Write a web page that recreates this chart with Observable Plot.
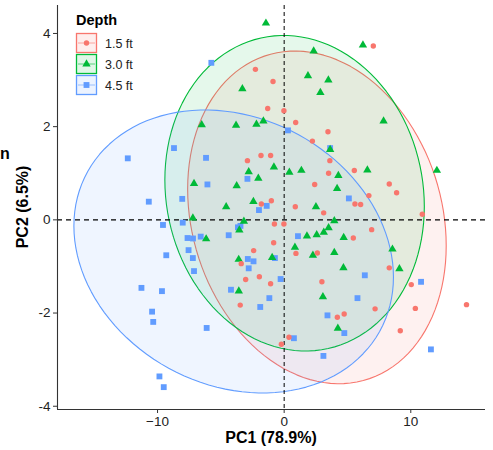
<!DOCTYPE html>
<html><head><meta charset="utf-8">
<script src="https://cdn.jsdelivr.net/npm/d3@7"></script>
<script src="https://cdn.jsdelivr.net/npm/@observablehq/plot@0.6"></script>
<style>
body{margin:0;background:#fff;font-family:"Liberation Sans",Arial,sans-serif;}
#wrap{position:relative;width:493px;height:450px;overflow:hidden;}
#cut{position:absolute;left:0px;top:146px;font:bold 16px "Liberation Sans",Arial,sans-serif;color:#000;line-height:1;}
</style></head><body><div id="wrap"><div id="cut">n</div></div>
<script>
const depths = ["1.5 ft", "3.0 ft", "4.5 ft"];
const colors = ["#F8766D", "#00BA38", "#619CFF"];
const symbols = ["circle", "triangle", "square"];
const legendTitle = "Depth";
const xLabel = "PC1 (78.9%)";
const yLabel = "PC2 (6.5%)";
const xTicks = [-10, 0, 10];
const yTicks = [-4, -2, 0, 2, 4];
const xDomain = [-17.9, 15.9];
const yDomain = [-4.07, 4.6];

const pc1_15 = [7.04,-2.27,-0.88,-1.30,-0.02,0.91,3.46,2.23,-1.83,-1.07,-2.90,3.61,3.51,5.54,2.41,8.30,8.88,6.69,5.59,6.04,-1.80,-1.01,0.88,3.12,10.91,-0.77,-0.02,6.91,5.46,-0.83,-2.41,0.93,2.62,8.30,-3.39,-3.04,-1.96,-1.07,2.98,10.04,10.36,14.40,7.18,4.20,4.74,9.17,0.38,-0.22,-3.47];
const pc2_15 = [3.73,3.23,2.97,2.39,2.34,2.09,1.89,1.69,1.38,1.38,1.27,1.27,1.00,1.06,0.76,0.77,0.58,0.52,0.34,0.33,0.34,0.41,0.28,0.15,0.12,-0.09,-0.09,-0.21,-0.39,-0.49,-0.66,-0.72,-0.71,-1.03,-0.94,-1.28,-1.22,-1.37,-1.33,-1.39,-1.90,-1.82,-1.91,-2.09,-2.02,-2.38,-2.52,-2.67,-1.83];
const pc1_30 = [-1.44,6.22,2.33,1.88,3.49,2.86,-3.30,7.85,-2.19,-1.64,3.63,6.57,12.06,-2.80,-2.04,-0.81,0.41,1.36,4.28,4.18,-2.43,2.51,3.96,-6.51,-3.80,-7.12,-3.75,-4.58,-7.21,-3.18,-3.54,-6.16,-3.59,-0.95,-3.58,3.51,3.13,2.57,1.80,4.70,0.85,3.96,2.27,8.55,4.68,9.10,3.06,4.24];
const pc2_30 = [4.22,3.75,3.62,3.09,3.00,2.73,2.81,2.12,2.05,2.12,1.51,1.07,1.06,1.03,0.89,1.13,1.02,1.06,0.95,0.67,0.39,0.28,-0.02,2.04,2.03,0.78,0.73,0.28,0.04,-0.03,-0.22,-0.41,-0.85,-0.81,-1.53,-0.17,-0.27,-0.32,-0.35,-0.38,-0.59,-0.70,-0.76,-0.63,-1.03,-1.05,-1.65,-2.33];
const pc1_45 = [-5.75,-12.35,-8.70,-6.17,-6.06,-2.90,-10.69,-8.05,0.30,3.63,-1.99,-1.38,5.11,-9.57,-8.01,-7.63,-7.20,-6.59,-7.55,-7.21,-9.31,-7.12,-4.38,-3.65,-3.45,-2.87,-2.42,-2.80,-0.73,-11.27,-9.65,-10.43,-10.34,-6.12,-9.85,-9.51,-4.20,-0.28,-1.17,-1.89,1.09,6.37,5.79,3.42,4.75,0.77,3.10,10.81,11.59];
const pc2_45 = [3.37,1.32,1.54,1.33,0.76,0.88,0.39,0.45,1.92,1.54,0.21,0.30,0.46,-0.11,-0.06,-0.39,-0.40,-0.36,-0.65,-0.82,-0.76,-1.10,-0.33,-0.16,-0.13,-0.84,-0.89,-1.04,-0.82,-1.46,-1.53,-1.97,-2.19,-2.32,-3.36,-3.59,-1.50,-1.27,-1.68,-1.87,-0.35,-1.19,-1.68,-2.05,-2.43,-2.54,-2.92,-1.33,-2.78];

const groups = [[pc1_15, pc2_15], [pc1_30, pc2_30], [pc1_45, pc2_45]];
const points = [];
groups.forEach(([xs, ys], g) => xs.forEach((x, i) => points.push({x, y: ys[i], depth: depths[g]})));

// robust multivariate-t scatter (MASS::cov.trob, nu = 5), as ggplot stat_ellipse type = "t"
function covTrob(xs, ys, nu = 5, maxit = 25, tol = 0.01) {
  const n = xs.length, p = 2;
  let lx = d3.mean(xs), ly = d3.mean(ys);
  let w = new Array(n).fill(1);
  let X = [];
  for (let it = 0; it < maxit; it++) {
    const w0 = w.slice();
    X = xs.map((x, i) => [x - lx, ys[i] - ly]);
    const sw = d3.sum(w);
    let a = 0, b = 0, c = 0;
    X.forEach(([dx, dy], i) => { a += w[i] * dx * dx; b += w[i] * dx * dy; c += w[i] * dy * dy; });
    a /= sw; b /= sw; c /= sw;
    const det = a * c - b * b;
    w = X.map(([dx, dy]) => {
      const Q = (c * dx * dx - 2 * b * dx * dy + a * dy * dy) / det;
      return (nu + p) / (nu + Q);
    });
    const sw2 = d3.sum(w);
    lx = d3.sum(xs.map((x, i) => w[i] * x)) / sw2;
    ly = d3.sum(ys.map((y, i) => w[i] * y)) / sw2;
    if (w.every((v, i) => Math.abs(v - w0[i]) < tol)) break;
  }
  let a = 0, b = 0, c = 0;
  X.forEach(([dx, dy], i) => { a += w[i] * dx * dx; b += w[i] * dx * dy; c += w[i] * dy * dy; });
  return {cx: lx, cy: ly, sxx: a / n, sxy: b / n, syy: c / n};
}

function ellipse(xs, ys, depth, level = 0.95, seg = 120) {
  const n = xs.length;
  const {cx, cy, sxx, sxy, syy} = covTrob(xs, ys);
  const df2 = n - 1;
  const f = df2 / 2 * (Math.pow(1 - level, -2 / df2) - 1);
  const r = Math.sqrt(2 * f);
  const a = Math.sqrt(sxx), b = sxy / a, c = Math.sqrt(syy - b * b);
  const out = [];
  for (let k = 0; k < seg; k++) {
    const t = 2 * Math.PI * k / seg;
    out.push({x: cx + r * a * Math.cos(t), y: cy + r * (b * Math.cos(t) + c * Math.sin(t)), depth});
  }
  return out;
}
const ellipses = groups.map(([xs, ys], g) => ellipse(xs, ys, depths[g]));

const rSizes = [2.7, 3.1, 3.3];
const marks = [];
ellipses.forEach((e, g) => {
  marks.push(Plot.line(e, {x: "x", y: "y", curve: "linear-closed", fill: colors[g], fillOpacity: 0.1, stroke: colors[g], strokeWidth: 1.1}));
});
marks.push(
  Plot.ruleY([0], {stroke: "#000", strokeWidth: 1.4, strokeDasharray: "5,4"}),
  Plot.ruleX([0], {stroke: "#000", strokeWidth: 1, strokeDasharray: "4,3"}),
  Plot.dot(points, {x: "x", y: "y", fill: "depth", symbol: "depth", r: d => rSizes[depths.indexOf(d.depth)], stroke: "none"}),
  Plot.ruleX([xDomain[0]], {stroke: "#333", strokeWidth: 1.1}),
  Plot.ruleY([yDomain[0]], {stroke: "#333", strokeWidth: 1.1}),
  Plot.axisX({ticks: xTicks, tickSize: 4, tickPadding: 3, fontSize: 13.5, label: null, stroke: "#333"}),
  Plot.axisY({ticks: yTicks, tickSize: 4, tickPadding: 3, fontSize: 13.5, label: null, tickFormat: d => d < 0 ? "-" + Math.abs(d) : String(d), stroke: "#333"})
);

const chart = Plot.plot({
  width: 493, height: 450,
  marginLeft: 57, marginRight: 8, marginTop: 5, marginBottom: 41,
  x: {domain: xDomain},
  y: {domain: yDomain},
  color: {domain: depths, range: colors},
  symbol: {domain: depths, range: symbols},
  r: {type: "identity"},
  style: {fontFamily: "'Liberation Sans', Arial, sans-serif", color: "#000", background: "#fff"},
  marks
});
document.getElementById("wrap").appendChild(chart);

const svg = d3.select(chart);
svg.selectAll("[aria-label='x-axis tick label'] text, [aria-label='y-axis tick label'] text").attr("fill", "#222");
// axis titles
svg.append("text").attr("x", 271).attr("y", 443).attr("text-anchor", "middle")
  .attr("font-weight", "bold").attr("font-size", 16).attr("fill", "#000").text(xLabel);
svg.append("text").attr("transform", "translate(28,207) rotate(-90)").attr("text-anchor", "middle")
  .attr("font-weight", "bold").attr("font-size", 16).attr("fill", "#000").text(yLabel);
// legend
const lg = svg.append("g").attr("text-anchor", "start");
lg.append("text").attr("x", 76).attr("y", 25).attr("text-anchor", "start").attr("font-weight", "bold").attr("font-size", 14.5).attr("fill", "#000").text(legendTitle);
depths.forEach((d, i) => {
  const y0 = 33 + i * 21;
  lg.append("rect").attr("x", 76.5).attr("y", y0 + 0.5).attr("width", 20).attr("height", 19)
    .attr("fill", colors[i]).attr("fill-opacity", 0.12).attr("stroke", colors[i]).attr("stroke-width", 1.3);
  lg.append("line").attr("x1", 78).attr("x2", 95).attr("y1", y0 + 10).attr("y2", y0 + 10)
    .attr("stroke", colors[i]).attr("stroke-opacity", 0.6).attr("stroke-width", 1);
  const sym = [d3.symbolCircle, d3.symbolTriangle, d3.symbolSquare][i];
  lg.append("path").attr("transform", `translate(86.5,${y0 + 10})`)
    .attr("d", d3.symbol(sym, Math.PI * rSizes[i] * rSizes[i])()).attr("fill", colors[i]);
  lg.append("text").attr("x", 105).attr("y", y0 + 14.5).attr("text-anchor", "start").attr("font-size", 12.5).attr("fill", "#222").text(d);
});
</script>
</body></html>
